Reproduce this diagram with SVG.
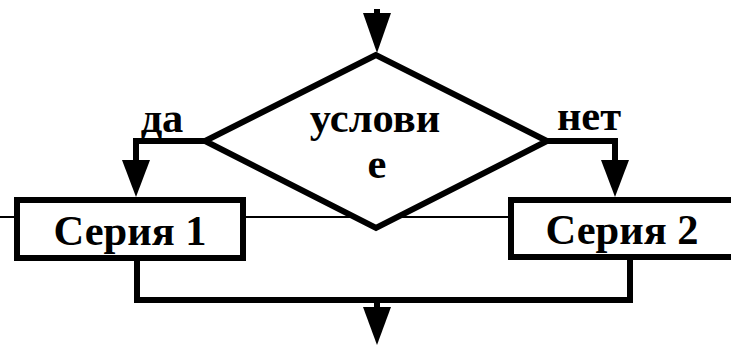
<svg xmlns="http://www.w3.org/2000/svg" width="731" height="346" viewBox="0 0 731 346">
  <style>
    .thick { fill: none; stroke: #000; stroke-width: 6; stroke-linejoin: miter; }
    .thin { fill: none; stroke: #000; stroke-width: 2; }
    .shape { fill: #fff; stroke: #000; stroke-width: 6; stroke-linejoin: miter; }
    .head { fill: #000; stroke: none; }
    .lbl { font-family: "Liberation Serif", "DejaVu Serif", serif; font-weight: 700; font-size: 42.5px; fill: #000; }
  </style>

  <!-- thin line passing behind the blocks -->
  <g id="connectors">
    <line class="thin" x1="0" y1="217" x2="20" y2="217"/>
    <line class="thin" x1="240" y1="217" x2="514" y2="217"/>

    <!-- entry arrow -->
    <line class="thick" x1="377" y1="9" x2="377" y2="16"/>
    <polygon class="head" points="363,13 391,13 377,53"/>

    <!-- yes branch -->
    <polyline class="thick" points="206,141 136,141 136,165"/>
    <polygon class="head" points="122,160 150,160 136,197"/>

    <!-- no branch -->
    <polyline class="thick" points="546,141 615,141 615,165"/>
    <polygon class="head" points="601,160 629,160 615,197"/>

    <!-- merge -->
    <polyline class="thick" points="137,258 137,300 630,300 630,257"/>
    <line class="thick" x1="377" y1="300" x2="377" y2="310"/>
    <polygon class="head" points="363,307 391,307 377,345"/>
  </g>

  <g id="condition">
    <polygon class="shape" points="376,55 205,141 376,228 547,141"/>
    <text class="lbl" x="375" y="132" text-anchor="middle">услови</text>
    <text class="lbl" x="377" y="178" text-anchor="middle">е</text>
  </g>

  <g id="yes-label">
    <text class="lbl" x="162" y="132" text-anchor="middle">да</text>
  </g>
  <g id="no-label">
    <text class="lbl" x="589" y="130" text-anchor="middle">нет</text>
  </g>

  <g id="series1">
    <rect class="shape" x="17" y="200" width="226" height="58"/>
    <text class="lbl" x="130" y="245" text-anchor="middle">Серия 1</text>
  </g>

  <g id="series2">
    <rect class="shape" x="511" y="200" width="230" height="57"/>
    <text class="lbl" x="622" y="244" text-anchor="middle">Серия 2</text>
  </g>
</svg>
